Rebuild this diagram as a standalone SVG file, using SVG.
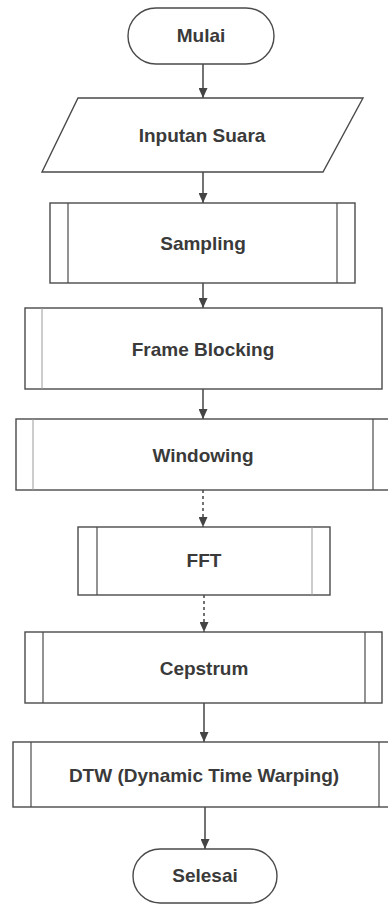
<svg xmlns="http://www.w3.org/2000/svg" width="388" height="904" viewBox="0 0 388 904">
<defs>
<marker id="ah" markerWidth="10" markerHeight="9" refX="10" refY="4.5" orient="auto" markerUnits="userSpaceOnUse" viewBox="0 0 10 9">
<path d="M0,0 L10,4.5 L0,9 Z" fill="#444"/>
</marker>
<style>
.s{fill:#fff;stroke:#4a4a4a;stroke-width:1.4}
.l{stroke:#4a4a4a;stroke-width:1.2;fill:none}
.f{stroke:#9a9a9a;stroke-width:1;fill:none}
.c{stroke:#444;stroke-width:1.5;fill:none}
.t{font-family:"Liberation Sans",Arial,sans-serif;font-weight:700;font-size:19px;fill:#3a3a3a;text-anchor:middle}
</style>
</defs>
<rect width="388" height="904" fill="#fff"/>
<g id="connectors">
<line class="c" x1="203" y1="64" x2="203" y2="98" marker-end="url(#ah)"/>
<line class="c" x1="203" y1="172" x2="203" y2="203" marker-end="url(#ah)"/>
<line class="c" x1="203" y1="283" x2="203" y2="308" marker-end="url(#ah)"/>
<line class="c" x1="203" y1="389" x2="203" y2="419" marker-end="url(#ah)"/>
<line class="c" x1="203" y1="490" x2="203" y2="527" marker-end="url(#ah)" stroke-dasharray="3 3"/>
<line class="c" x1="204" y1="595" x2="204" y2="632" marker-end="url(#ah)" stroke-dasharray="3 3"/>
<line class="c" x1="204" y1="703" x2="204" y2="742" marker-end="url(#ah)"/>
<line class="c" x1="205" y1="807" x2="205" y2="849" marker-end="url(#ah)"/>
</g>
<g id="mulai">
<rect class="s" x="128" y="8" width="146" height="56" rx="28" ry="28"/>
<text class="t" x="201" y="42">Mulai</text>
</g>
<g id="inputan-suara">
<polygon class="s" points="78,98 363,98 323,172 42,172"/>
<text class="t" x="202" y="142">Inputan Suara</text>
</g>
<g id="sampling">
<rect class="s" x="50" y="203" width="305" height="80"/>
<line class="l" x1="68" y1="203" x2="68" y2="283"/>
<line class="l" x1="337" y1="203" x2="337" y2="283"/>
<text class="t" x="203" y="250">Sampling</text>
</g>
<g id="frame-blocking">
<rect class="s" x="25" y="308" width="357" height="81"/>
<line class="f" x1="42" y1="308" x2="42" y2="389"/>
<text class="t" x="203" y="356">Frame Blocking</text>
</g>
<g id="windowing">
<rect class="s" x="16" y="419" width="380" height="71"/>
<line class="f" x1="33" y1="419" x2="33" y2="490"/>
<line class="l" x1="373" y1="419" x2="373" y2="490"/>
<text class="t" x="203" y="462">Windowing</text>
</g>
<g id="fft">
<rect class="s" x="78" y="527" width="252" height="68"/>
<line class="l" x1="97" y1="527" x2="97" y2="595"/>
<line class="f" x1="312" y1="527" x2="312" y2="595"/>
<text class="t" x="204" y="567">FFT</text>
</g>
<g id="cepstrum">
<rect class="s" x="25" y="632" width="357" height="71"/>
<line class="l" x1="43" y1="632" x2="43" y2="703"/>
<line class="l" x1="365" y1="632" x2="365" y2="703"/>
<text class="t" x="204" y="675">Cepstrum</text>
</g>
<g id="dtw">
<rect class="s" x="13" y="742" width="383" height="65"/>
<line class="l" x1="31" y1="742" x2="31" y2="807"/>
<line class="l" x1="379" y1="742" x2="379" y2="807"/>
<text class="t" x="204" y="782">DTW (Dynamic Time Warping)</text>
</g>
<g id="selesai">
<rect class="s" x="133" y="849" width="144" height="54" rx="27" ry="27"/>
<text class="t" x="205" y="882">Selesai</text>
</g>
</svg>
